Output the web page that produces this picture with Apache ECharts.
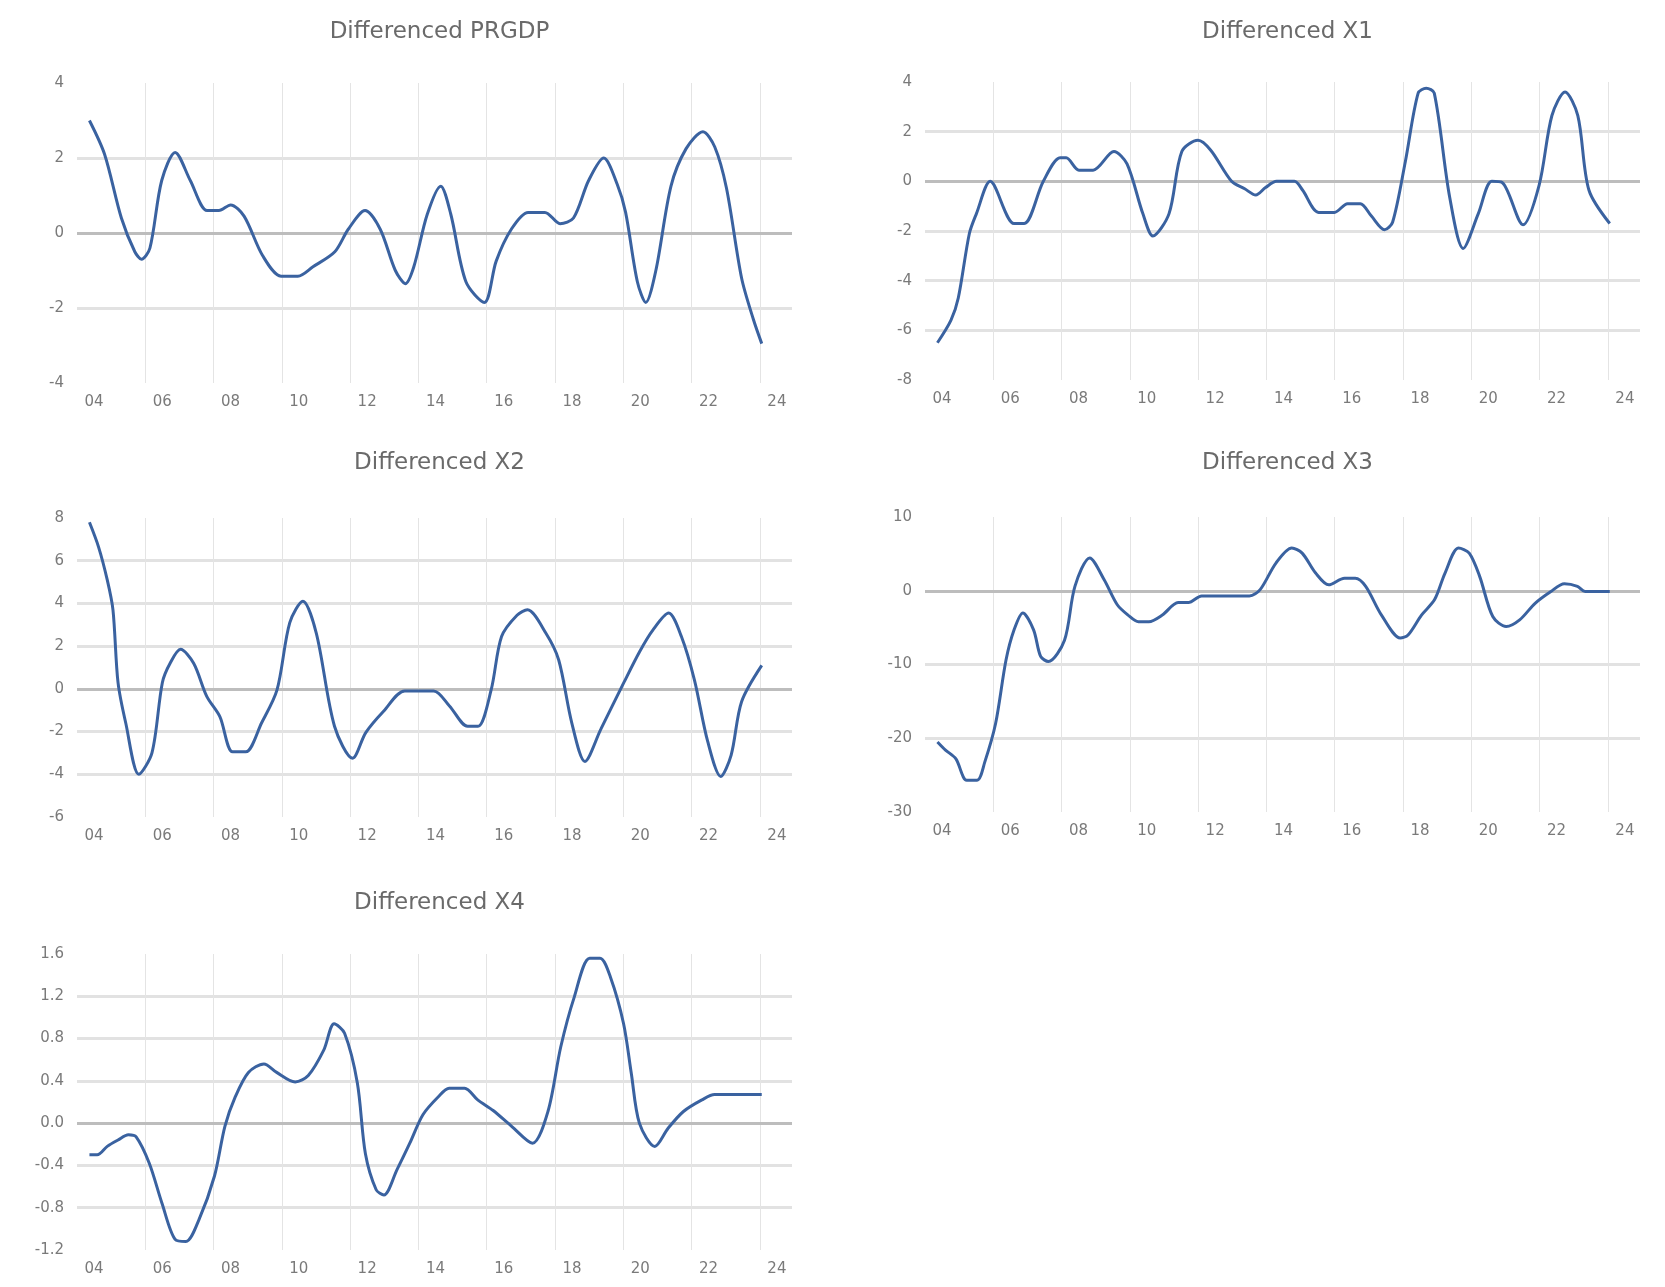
<!DOCTYPE html>
<html>
<head>
<meta charset="utf-8">
<script src="https://cdn.jsdelivr.net/npm/echarts@6/dist/echarts.min.js"></script>
<style>
  html, body { margin: 0; background: #fff; }
  #main { width: 1665px; height: 1287px; }
</style>
</head>
<body>
<div id="main"></div>
<script>
// x tick labels (two-digit years)
var yearLabels = ['04', '06', '08', '10', '12', '14', '16', '18', '20', '22', '24'];

// Differenced PRGDP
var prgdpT = [2004.0, 2004.45, 2004.95, 2005.35, 2005.55, 2005.8, 2006.15, 2006.55, 2007.0, 2007.5, 2007.85, 2008.2, 2008.6, 2009.15, 2009.7, 2010.2, 2010.65, 2011.3, 2011.7, 2012.2, 2012.65, 2013.1, 2013.4, 2013.65, 2014.05, 2014.45, 2014.75, 2015.2, 2015.75, 2016.1, 2016.55, 2017.05, 2017.55, 2018.0, 2018.4, 2018.85, 2019.3, 2019.7, 2019.95, 2020.3, 2020.55, 2020.85, 2021.3, 2021.75, 2022.25, 2022.6, 2022.95, 2023.4, 2023.75, 2024.0];
var prgdpV = [3.0, 2.1, 0.4, -0.5, -0.7, -0.4, 1.4, 2.15, 1.4, 0.6, 0.6, 0.75, 0.45, -0.6, -1.15, -1.15, -0.9, -0.5, 0.1, 0.6, 0.1, -1.0, -1.35, -0.9, 0.5, 1.25, 0.5, -1.3, -1.85, -0.75, 0.1, 0.55, 0.55, 0.25, 0.4, 1.4, 2.0, 1.3, 0.55, -1.3, -1.85, -1.0, 1.25, 2.25, 2.7, 2.3, 1.2, -1.2, -2.3, -2.95];

// Differenced X1
var x1T = [2004.0, 2004.4, 2004.62, 2004.95, 2005.16, 2005.57, 2006.28, 2006.58, 2007.15, 2007.65, 2007.83, 2008.21, 2008.63, 2009.25, 2009.64, 2010.11, 2010.41, 2010.89, 2011.27, 2011.75, 2012.13, 2012.75, 2013.14, 2013.47, 2013.76, 2014.09, 2014.62, 2014.86, 2015.34, 2015.81, 2016.2, 2016.58, 2016.91, 2017.3, 2017.54, 2017.92, 2018.3, 2018.54, 2018.78, 2019.24, 2019.64, 2020.09, 2020.49, 2020.8, 2021.42, 2021.9, 2022.28, 2022.67, 2023.05, 2023.38, 2024.0];
var x1V = [-6.5, -5.6, -4.7, -2.1, -1.3, 0.0, -1.7, -1.7, 0, 0.95, 0.95, 0.45, 0.45, 1.2, 0.7, -1.3, -2.2, -1.3, 1.2, 1.65, 1.25, 0, -0.3, -0.55, -0.25, 0, 0, -0.35, -1.25, -1.25, -0.9, -0.9, -1.4, -1.95, -1.65, 0.8, 3.55, 3.75, 3.55, -0.65, -2.7, -1.3, 0, -0.05, -1.75, -0.15, 2.65, 3.6, 2.65, -0.35, -1.7];

// Differenced X2
var x2T = [2004.0, 2004.27, 2004.53, 2004.7, 2004.85, 2005.08, 2005.47, 2005.86, 2006.17, 2006.4, 2006.71, 2007.1, 2007.49, 2007.88, 2008.26, 2008.65, 2009.12, 2009.58, 2009.96, 2010.35, 2010.75, 2011.29, 2011.83, 2012.22, 2012.75, 2013.38, 2014.24, 2014.71, 2015.25, 2015.56, 2015.95, 2016.26, 2016.72, 2017.03, 2017.58, 2017.96, 2018.35, 2018.74, 2019.21, 2019.9, 2020.37, 2020.76, 2021.23, 2021.61, 2022.0, 2022.39, 2022.78, 2023.09, 2023.4, 2024.0];
var x2V = [7.8, 6.65, 5.1, 3.7, 0.3, -1.6, -4.0, -3.0, 0.3, 1.2, 1.85, 1.2, -0.35, -1.3, -2.95, -2.95, -1.6, -0.05, 3.1, 4.1, 2.6, -1.75, -3.25, -2.05, -1.05, -0.1, -0.1, -0.8, -1.75, -1.75, -0.05, 2.45, 3.45, 3.7, 2.6, 1.35, -1.6, -3.4, -1.9, 0.3, 1.75, 2.75, 3.55, 2.45, 0.4, -2.45, -4.1, -3.1, -0.6, 1.1];

// Differenced X3
var x3T = [2004.0, 2004.24, 2004.55, 2004.87, 2005.18, 2005.41, 2005.73, 2006.04, 2006.28, 2006.54, 2006.86, 2007.07, 2007.3, 2007.78, 2008.09, 2008.53, 2008.96, 2009.35, 2009.67, 2009.98, 2010.29, 2010.69, 2011.16, 2011.47, 2011.86, 2013.28, 2013.6, 2014.07, 2014.54, 2014.85, 2015.25, 2015.64, 2016.11, 2016.43, 2016.74, 2017.21, 2017.77, 2018.0, 2018.4, 2018.79, 2019.1, 2019.5, 2019.82, 2020.13, 2020.52, 2020.92, 2021.32, 2021.78, 2022.25, 2022.65, 2023.04, 2023.27, 2024.0];
var x3V = [-20.5, -21.6, -22.8, -25.7, -25.7, -23.2, -18.0, -9.4, -5.3, -3.0, -5.3, -8.9, -9.6, -6.7, 0.6, 4.45, 1.5, -1.9, -3.3, -4.2, -4.2, -3.3, -1.6, -1.6, -0.7, -0.7, 0.15, 3.75, 5.8, 5.1, 2.4, 0.8, 1.7, 1.7, 0.6, -3.3, -6.4, -6.0, -3.3, -1.2, 2.4, 5.8, 5.1, 1.95, -3.5, -4.85, -3.95, -1.7, -0.1, 0.95, 0.6, -0.1, -0.1];

// Differenced X4
var x4T = [2004.0, 2004.23, 2004.53, 2004.85, 2005.16, 2005.39, 2005.78, 2006.16, 2006.55, 2006.87, 2007.25, 2007.72, 2008.03, 2008.34, 2008.73, 2009.19, 2009.57, 2010.12, 2010.51, 2010.97, 2011.28, 2011.59, 2011.97, 2012.21, 2012.53, 2012.76, 2013.15, 2013.53, 2013.92, 2014.38, 2014.7, 2015.16, 2015.55, 2016.01, 2016.56, 2017.18, 2017.64, 2018.02, 2018.42, 2018.88, 2019.19, 2019.5, 2019.89, 2020.12, 2020.36, 2020.82, 2021.21, 2021.67, 2022.22, 2022.6, 2024.0];
var x4V = [-0.30, -0.30, -0.22, -0.16, -0.11, -0.13, -0.38, -0.76, -1.1, -1.12, -0.92, -0.5, -0.03, 0.25, 0.48, 0.56, 0.48, 0.39, 0.45, 0.69, 0.94, 0.85, 0.38, -0.29, -0.63, -0.68, -0.44, -0.19, 0.08, 0.25, 0.33, 0.33, 0.22, 0.12, -0.03, -0.19, 0.11, 0.72, 1.19, 1.56, 1.56, 1.38, 0.94, 0.47, 0.0, -0.22, -0.05, 0.11, 0.22, 0.27, 0.27];

var titles = ['Differenced PRGDP', 'Differenced X1', 'Differenced X2', 'Differenced X3', 'Differenced X4'];
var seriesT = [prgdpT, x1T, x2T, x3T, x4T];
var seriesV = [prgdpV, x1V, x2V, x3V, x4V];
var yMin = [-4, -8, -6, -30, -1.2];
var yMax = [4, 4, 8, 10, 1.6];
var yStep = [2, 2, 2, 10, 0.4];

// panel boxes
var panels = [
    {left: 77, top: 83, height: 300, titleTop: 16},
    {left: 925, top: 82, height: 298, titleTop: 16},
    {left: 77, top: 518, height: 299, titleTop: 447},
    {left: 925, top: 517, height: 295, titleTop: 447},
    {left: 77, top: 954, height: 296, titleTop: 887}
];
var plotW = 715;

var chart = echarts.init(document.getElementById('main'));
var labelColor = '#7a7a7a';

var option = {
    animation: false,
    backgroundColor: '#fff',
    title: [],
    grid: [],
    xAxis: [],
    yAxis: [],
    series: []
};

panels.forEach(function (p, i) {
    option.title.push({
        text: titles[i],
        left: p.left + plotW / 2,
        top: p.titleTop,
        textAlign: 'center',
        textStyle: {fontFamily: 'DejaVu Sans', fontSize: 23, fontWeight: 'normal', color: '#6a6a6a'}
    });
    option.grid.push({left: p.left, top: p.top, width: plotW, height: p.height, containLabel: false});

    // data axis (hidden)
    option.xAxis.push({
        type: 'value', gridIndex: i, position: 'bottom', min: 2003.63, max: 2024.9, show: false
    });
    // gridline / label axis
    option.xAxis.push({
        type: 'value', gridIndex: i, position: 'bottom', min: 0, max: 10.47, interval: 1,
        axisLine: {show: false}, axisTick: {show: false},
        splitLine: {show: true, showMinLine: false, showMaxLine: false, lineStyle: {color: '#e4e4e4', width: 1}},
        axisLabel: {
            color: labelColor, fontFamily: 'DejaVu Sans', fontSize: 15, margin: 12,
            padding: [0, 0, 0, 34],
            formatter: function (v) { return Number.isInteger(v) ? yearLabels[v] : ''; }
        }
    });
    option.yAxis.push({
        type: 'value', gridIndex: i, min: yMin[i], max: yMax[i], interval: yStep[i],
        axisLine: {show: false}, axisTick: {show: false},
        splitLine: {show: true, showMinLine: false, showMaxLine: false, lineStyle: {color: '#e2e2e2', width: 3}},
        axisLabel: {
            color: labelColor, fontFamily: 'DejaVu Sans', fontSize: 15, margin: 13,
            formatter: function (v) {
                if (yStep[i] < 1) return Math.abs(v) < 1e-9 ? '0.0' : v.toFixed(1);
                return String(Math.round(v));
            }
        }
    });

    var pts = seriesT[i].map(function (t, k) { return [t, seriesV[i][k]]; });
    option.series.push({
        name: titles[i],
        type: 'line',
        xAxisIndex: 2 * i,
        yAxisIndex: i,
        data: pts,
        smooth: 0.3,
        symbol: 'none',
        z: 3,
        lineStyle: {color: '#3a62a0', width: 3},
        itemStyle: {color: '#3a62a0'},
        markLine: {
            silent: true, symbol: 'none', z: 1, animation: false,
            label: {show: false},
            lineStyle: {color: '#bdbdbd', width: 3, type: 'solid'},
            data: [{yAxis: 0}]
        }
    });
});

chart.setOption(option);
window.addEventListener('resize', function () { chart.resize(); });
</script>
</body>
</html>
